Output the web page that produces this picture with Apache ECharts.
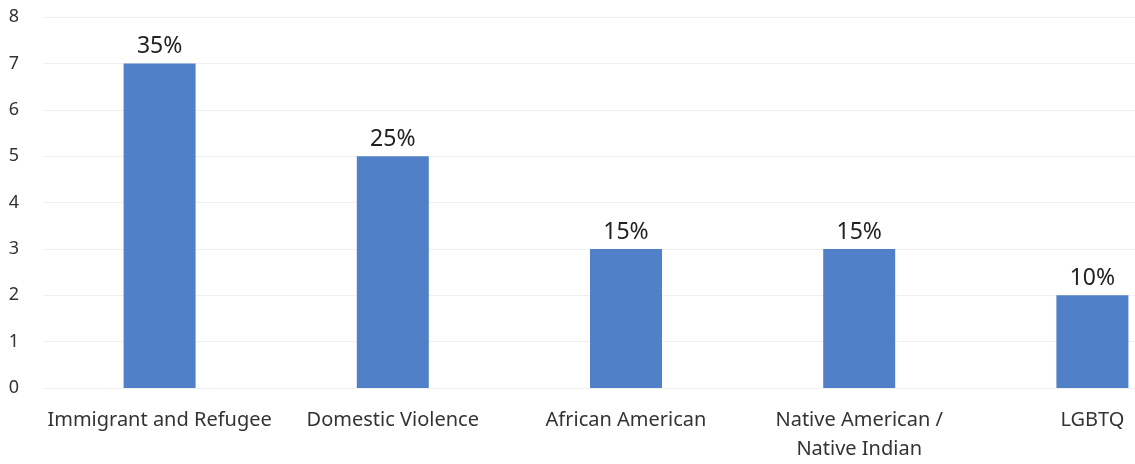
<!DOCTYPE html>
<html><head><meta charset="utf-8">
<script src="https://cdn.jsdelivr.net/npm/echarts@6/dist/echarts.min.js"></script>
<style>html,body{margin:0;padding:0;background:#fff;overflow:hidden;width:1135px;height:464px}#c{width:1210px;height:464px}</style>
</head><body><div id="c"></div>
<script>
const categories = ["Immigrant and Refugee", "Domestic Violence", "African American", "Native American /\nNative Indian", "LGBTQ"];
const counts = [7, 5, 3, 3, 2];
const percentLabels = ["35%", "25%", "15%", "15%", "10%"];
const yTicks = [0, 1, 2, 3, 4, 5, 6, 7, 8];

const FONT = "Noto Sans";
const chart = echarts.init(document.getElementById('c'), null, {renderer: 'canvas'});
chart.setOption({
  backgroundColor: '#ffffff',
  animation: false,
  grid: {left: 43, right: 1, top: 17, bottom: 74, containLabel: false},
  xAxis: {
    type: 'category',
    data: categories,
    axisLine: {show: false},
    axisTick: {show: false},
    axisLabel: {color: '#333333', fontSize: 20, fontFamily: FONT, margin: 18, lineHeight: 29, interval: 0}
  },
  yAxis: {
    type: 'value',
    min: yTicks[0], max: yTicks[yTicks.length - 1], interval: 1,
    axisLine: {show: false},
    axisTick: {show: false},
    axisLabel: {color: '#333333', fontSize: 18, fontFamily: FONT, margin: 24},
    splitLine: {lineStyle: {color: '#efefef', width: 1}}
  },
  series: [{
    type: 'bar',
    data: counts,
    barWidth: 72,
    itemStyle: {color: '#5081c8'},
    label: {
      show: true, position: 'top', distance: 5,
      fontSize: 23, fontFamily: FONT, color: '#222222',
      formatter: p => percentLabels[p.dataIndex]
    }
  }]
});
</script></body></html>
